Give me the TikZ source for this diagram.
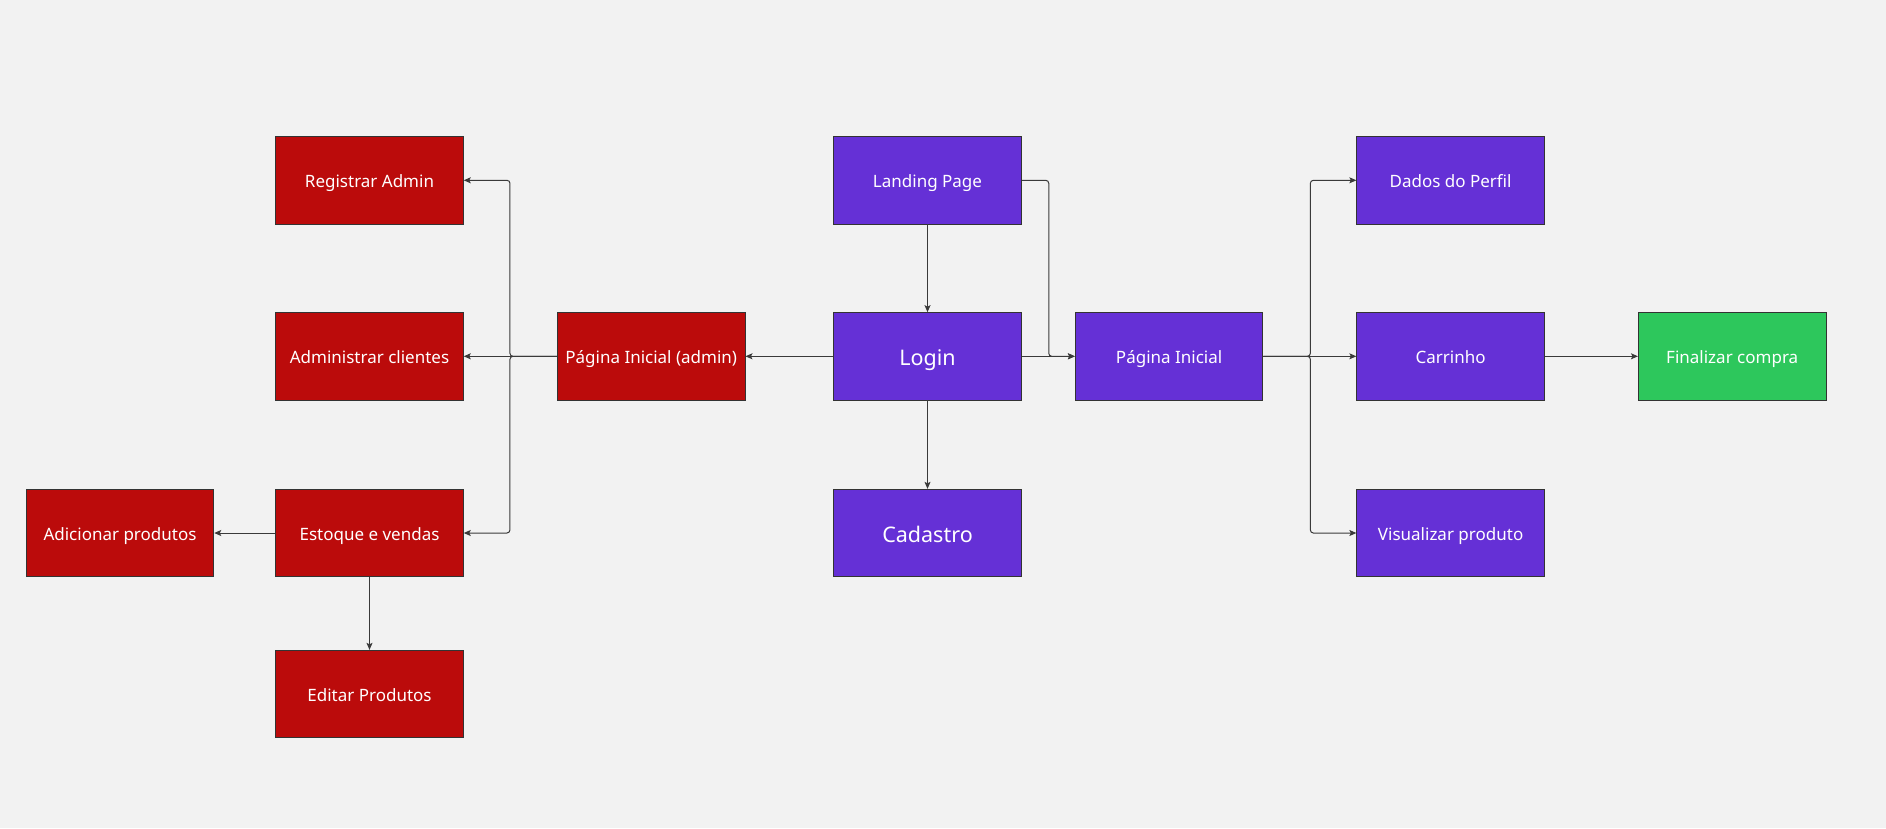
\documentclass[tikz,border=0pt]{standalone}
\usepackage{fontspec}
\setmainfont{Noto Sans}
\usetikzlibrary{arrows.meta}
\definecolor{bgc}{HTML}{F2F2F2}
\definecolor{purp}{HTML}{6530D6}
\definecolor{redc}{HTML}{BB0B0B}
\definecolor{grnc}{HTML}{2DC75C}
\definecolor{linec}{HTML}{3A3A3A}
\definecolor{bordc}{HTML}{333333}
\tikzset{
  box/.style={draw=bordc, line width=0.9pt, minimum width=187.6pt, minimum height=87.4pt, inner sep=0pt, text=white, font=\fontsize{17}{19}\selectfont, text height=18pt, text depth=3.4pt},
  pbox/.style={box, fill=purp},
  rbox/.style={box, fill=redc},
  gbox/.style={box, fill=grnc},
  big/.style={font=\fontsize{21.5}{24}\selectfont, text height=23pt, text depth=4.4pt},
  conn/.style={draw=linec, line width=1pt, rounded corners=3pt, -{Stealth[length=7pt,width=6pt,inset=1.5pt]}},
}
\begin{document}
\begin{tikzpicture}[x=1pt,y=-1pt]
\fill[bgc] (0,0) rectangle (1886,828);
\useasboundingbox (0,0) rectangle (1886,828);

\node[rbox] (registrar) at (369.5,180.3) {Registrar Admin};
\node[rbox] (administrar) at (369.5,356.3) {Administrar clientes};
\node[rbox] (estoque) at (369.5,533) {Estoque e vendas};
\node[rbox] (adicionar) at (120,533) {Adicionar produtos};
\node[rbox] (editar) at (369.5,694) {Editar Produtos};
\node[rbox] (admin) at (651.2,356.3) {Página Inicial (admin)};
\node[pbox] (landing) at (927.5,180.3) {Landing Page};
\node[pbox,big] (login) at (927.5,356.3) {Login};
\node[pbox,big] (cadastro) at (927.5,533) {Cadastro};
\node[pbox] (pi) at (1169.1,356.3) {Página Inicial};
\node[pbox] (dados) at (1450.6,180.3) {Dados do Perfil};
\node[pbox] (carrinho) at (1450.6,356.3) {Carrinho};
\node[pbox] (visualizar) at (1450.6,533) {Visualizar produto};
\node[gbox] (finalizar) at (1732.2,356.3) {Finalizar compra};

\draw[conn] (landing) -- (login);
\draw[conn] (landing.east) -- ++(27,0) |- (pi.west);
\draw[conn] (login) -- (pi);
\draw[conn] (login) -- (cadastro);
\draw[conn] (login) -- (admin);
\draw[conn] (admin.west) -- ++(-47,0) |- (registrar.east);
\draw[conn] (admin) -- (administrar);
\draw[conn] (admin.west) -- ++(-47,0) |- (estoque.east);
\draw[conn] (estoque) -- (adicionar);
\draw[conn] (estoque) -- (editar);
\draw[conn] (pi.east) -- ++(47,0) |- (dados.west);
\draw[conn] (pi) -- (carrinho);
\draw[conn] (pi.east) -- ++(47,0) |- (visualizar.west);
\draw[conn] (carrinho) -- (finalizar);
\end{tikzpicture}
\end{document}
